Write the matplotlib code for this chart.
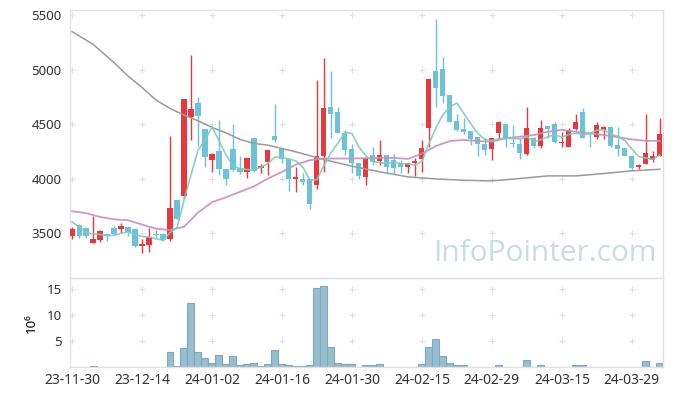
import numpy as np
import pandas as pd
import matplotlib
matplotlib.use("Agg")
import matplotlib.pyplot as plt

# --- dane ---------------------------------------------------------------------
holidays = ["2023-12-25", "2023-12-29", "2024-01-01", "2024-02-09", "2024-02-12", "2024-03-01"]
dates = pd.bdate_range("2023-11-30", periods=85, freq="C", holidays=holidays)

open_ = [3476, 3573, 3552, 3411, 3436, 3490, 3552, 3537, 3561, 3543,
         3384, 3390, 3497, 3497, 3445, 3803, 3843, 4561, 4690, 4454,
         4170, 4252, 4093, 4271, 4099, 4063, 4369, 4100, 4154, 4390,
         4271, 4185, 3995, 4002, 4002, 3940, 4210, 4653, 4613, 4421,
         4271, 4148, 4017, 4216, 4161, 4216, 4176, 4148, 4109, 4145,
         4185, 4469, 4986, 5002, 4766, 4527, 4454, 4436, 4378, 4314,
         4271, 4421, 4497, 4329, 4314, 4231, 4369, 4301, 4482, 4497,
         4329, 4292, 4454, 4607, 4415, 4384, 4448, 4476, 4307, 4283,
         4206, 4109, 4139, 4176, 4210]
high = [3558, 3583, 3558, 3659, 3534, 3506, 3570, 3598, 3570, 3549,
        3451, 3552, 3528, 3506, 4390, 3803, 4729, 5133, 4745, 4454,
        4237, 4537, 4093, 4497, 4207, 4194, 4369, 4139, 4261, 4680,
        4271, 4185, 4109, 4054, 4002, 4904, 5102, 4989, 4653, 4445,
        4314, 4148, 4194, 4286, 4359, 4216, 4222, 4170, 4148, 4194,
        4353, 4913, 5460, 5118, 4766, 4589, 4552, 4436, 4378, 4375,
        4375, 4530, 4497, 4491, 4375, 4653, 4384, 4537, 4482, 4521,
        4430, 4460, 4589, 4644, 4430, 4515, 4482, 4476, 4476, 4283,
        4206, 4139, 4589, 4255, 4552]
low = [3451, 3460, 3460, 3411, 3424, 3430, 3488, 3506, 3479, 3375,
       3323, 3329, 3460, 3430, 3430, 3629, 3818, 4359, 4301, 4109,
       4063, 4032, 3940, 4072, 4041, 4011, 4063, 4054, 4032, 4340,
       4148, 3888, 3879, 3940, 3726, 3910, 4063, 4369, 4421, 4216,
       4048, 4002, 3947, 4124, 4124, 4041, 4041, 4054, 4048, 4023,
       4063, 4292, 4653, 4690, 4521, 4436, 4414, 4307, 4206, 4216,
       4176, 4362, 4292, 4292, 4185, 4216, 4277, 4277, 4369, 4323,
       4292, 4292, 4445, 4369, 4292, 4362, 4362, 4292, 4210, 4206,
       4078, 4093, 4133, 4154, 4210]
close = [3537, 3476, 3476, 3445, 3518, 3476, 3497, 3564, 3515, 3384,
         3399, 3470, 3482, 3442, 3736, 3629, 4729, 4638, 4576, 4200,
         4231, 4093, 3995, 4078, 4063, 4194, 4072, 4115, 4261, 4353,
         4185, 3995, 4017, 3971, 3766, 4206, 4650, 4592, 4421, 4261,
         4145, 4026, 4194, 4154, 4216, 4109, 4099, 4109, 4148, 4161,
         4277, 4913, 4827, 4757, 4521, 4445, 4424, 4362, 4314, 4262,
         4375, 4515, 4375, 4318, 4237, 4469, 4301, 4460, 4454, 4338,
         4338, 4445, 4515, 4369, 4405, 4488, 4473, 4301, 4271, 4210,
         4099, 4130, 4240, 4206, 4408]

# obrót w milionach sztuk
volume = [0.05, 0.05, 0.05, 0.2, 0.05, 0.05, 0.05, 0.05, 0.05, 0.05,
          0.05, 0.05, 0.05, 0.05, 2.9, 0.2, 3.6, 12.4, 2.9, 1.7,
          0.8, 2.3, 0.6, 2.1, 0.4, 0.6, 0.8, 0.25, 0.6, 3.25,
          0.6, 0.4, 0.2, 0.2, 0.4, 15.1, 15.5, 3.8, 0.8, 0.6,
          0.6, 0.1, 0.4, 0.4, 0.6, 0.1, 0.1, 0.1, 0.1, 0.1,
          0.6, 3.8, 5.35, 2.1, 0.8, 0.4, 0.4, 0.1, 0.1, 0.1,
          0.1, 0.4, 0.1, 0.1, 0.1, 1.35, 0.1, 0.4, 0.1, 0.1,
          0.1, 0.1, 0.4, 0.4, 0.1, 0.1, 0.1, 0.1, 0.1, 0.1,
          0.1, 0.1, 1.15, 0.1, 0.8]

# pierwsze 4 wartości MA5 (brak wcześniejszych notowań)
ma5_head = [3604, 3558, 3506, 3494]

# MA20 i MA60 (sesja, wartość)
ma20_days = list(range(0, 85, 2))
ma20 = [3702, 3685, 3650, 3628, 3620, 3580, 3543, 3530, 3560, 3690,
        3785, 3830, 3880, 3930, 4002, 4063, 4130, 4170, 4185, 4185,
        4185, 4188, 4191, 4190, 4182, 4230, 4300, 4345, 4355, 4345,
        4340, 4370, 4385, 4400, 4430, 4448, 4430, 4415, 4400, 4380,
        4360, 4347, 4347]
ma60_days = [0, 3, 6, 8, 10, 12, 14, 16, 18, 20, 22, 24, 26, 28,
             32, 36, 40, 44, 48, 52, 56, 60, 64, 68, 72, 76, 80, 84]
ma60 = [5347, 5231, 5063, 4940, 4836, 4720, 4644, 4583, 4531, 4470,
        4420, 4360, 4323, 4307, 4246, 4176, 4115, 4063, 4017, 3998,
        3986, 3980, 4002, 4026, 4026, 4048, 4072, 4087]

tick_labels = [d.strftime("%y-%m-%d") for d in dates[::10]]

# --- wykres -------------------------------------------------------------------
plt.rcParams["font.family"] = ["Noto Sans", "DejaVu Sans"]
plt.rcParams["font.size"] = 9.5
plt.rcParams["text.color"] = "#333333"

UP, DOWN = "#e8383d", "#6cc3d9"
GRID = "#e0e0e0"
SPINE = "#e2e2e2"

x = np.arange(len(dates))
o, h, l, c = map(np.asarray, (open_, high, low, close))
colors = np.where(c >= o, UP, DOWN)

ma5 = pd.Series(c).rolling(5).mean().to_numpy()
ma5[:4] = ma5_head

fig = plt.figure(figsize=(6.73, 3.96), dpi=100)
ax = fig.add_axes([0.104, 0.298, 0.881, 0.677])
axv = fig.add_axes([0.104, 0.0725, 0.881, 0.2255], sharex=ax)

ax.vlines(x, l, h, colors=colors, linewidth=1.0, zorder=2)
body = np.maximum(np.abs(c - o), 6)
ax.bar(x, body, bottom=np.minimum(o, c), width=0.72, color=colors, zorder=3)

ax.plot(ma60_days, ma60, color="#9a9a9a", lw=1.1, zorder=4)
ax.plot(ma20_days, ma20, color="#c98dc4", lw=1.3, alpha=0.9, zorder=4)
ax.plot(x, ma5, color="#7fcbbb", lw=1.2, alpha=0.9, zorder=4)

ax.set_ylim(3091, 5546)
ax.set_xlim(-0.29, 84.43)
yt = [3500, 4000, 4500, 5000, 5500]
ax.set_yticks(yt)
ax.tick_params(axis="y", length=0, pad=6, labelcolor="#333333")
ax.tick_params(axis="x", length=0, labelbottom=False)
xt = x[::10]
ax.set_xticks(xt)
gx, gy = np.meshgrid(xt, yt)
ax.plot(gx.ravel(), gy.ravel(), "+", color=GRID, ms=5, mew=0.8, zorder=1)

ax.text(0.99, 0.09, "InfoPointer.com", transform=ax.transAxes, ha="right", va="center",
        fontsize=21.5, color="#c9dce6", family=["Open Sans", "DejaVu Sans"], zorder=0)

axv.bar(x, volume, width=1.0, color="#97bdcf", edgecolor="#7ea8bd", linewidth=0.8)
axv.set_ylim(0, 17.1)
vt = [5, 10, 15]
axv.set_yticks(vt)
axv.set_xticks(xt)
axv.set_xticklabels(tick_labels, fontsize=10)
axv.tick_params(length=0, labelcolor="#333333")
axv.tick_params(axis="y", pad=6)
axv.tick_params(axis="x", pad=4)
gx, gy = np.meshgrid(xt, vt)
axv.plot(gx.ravel(), gy.ravel(), "+", color=GRID, ms=5, mew=0.8, zorder=0)
axv.set_ylabel("10⁶", labelpad=6)

for a in (ax, axv):
    for s in a.spines.values():
        s.set_color(SPINE)
        s.set_linewidth(1.0)

fig.savefig("out.png", dpi=100)
